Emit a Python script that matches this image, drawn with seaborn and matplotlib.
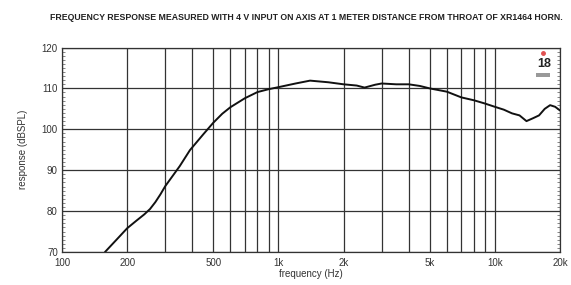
import matplotlib
matplotlib.use("Agg")
import matplotlib.pyplot as plt
import matplotlib.ticker as mticker
from matplotlib.patches import Rectangle
import seaborn as sns
import pandas as pd
import numpy as np

freq_hz = [158, 180, 200, 220, 240, 255, 270, 285, 300, 350, 390, 450, 500, 550, 600, 700, 800, 900,
           1000, 1200, 1400, 1700, 2000, 2300, 2500, 2800, 3000, 3500, 4000, 4500, 5000, 6000,
           7000, 8000, 9000, 10000, 11000, 12000, 13000, 14000, 15000, 16000, 17000, 18000,
           19000, 20000]
response_db = [70.0, 73.2, 75.8, 77.6, 79.2, 80.5, 82.2, 84.1, 86.1, 91.0, 94.9, 98.8, 101.6, 103.8, 105.4,
               107.6, 109.1, 109.8, 110.3, 111.2, 111.9, 111.5, 111.0, 110.7, 110.2, 110.9,
               111.2, 111.0, 111.0, 110.6, 110.0, 109.2, 107.8, 107.1, 106.3, 105.5, 104.8,
               103.9, 103.4, 102.0, 102.7, 103.4, 105.0, 105.9, 105.5, 104.6]
x_ticks = [100, 200, 500, 1000, 2000, 5000, 10000, 20000]
x_tick_labels = ["100", "200", "500", "1k", "2k", "5k", "10k", "20k"]
y_ticks = [70, 80, 90, 100, 110, 120]

df = pd.DataFrame({"freq": freq_hz, "db": response_db})

sns.set_style("white")
plt.rcParams["font.family"] = ["Liberation Sans", "DejaVu Sans"]

fig = plt.figure(figsize=(5.71, 2.85), dpi=100)
ax = fig.add_axes([62 / 571, 1 - 252 / 285, (560 - 62) / 571, (252 - 47.5) / 285])

sns.lineplot(data=df, x="freq", y="db", ax=ax, color="#111111", linewidth=1.4)

ax.set_xscale("log")
ax.set_xlim(100, 20000)
ax.set_ylim(70, 120)

ax.set_xticks(x_ticks)
ax.set_xticklabels(x_tick_labels)
ax.xaxis.set_minor_locator(mticker.LogLocator(base=10, subs=np.arange(2, 10)))
ax.xaxis.set_minor_formatter(mticker.NullFormatter())
ax.set_yticks(y_ticks)
ax.yaxis.set_minor_locator(mticker.MultipleLocator(1))

ax.grid(True, which="major", axis="y", color="#333333", linewidth=0.9)
ax.grid(True, which="both", axis="x", color="#333333", linewidth=0.9)
ax.set_axisbelow(True)

ax.tick_params(axis="x", which="both", length=0, labelsize=7, colors="#333333", pad=4)
ax.tick_params(axis="y", which="major", length=0, labelsize=7, colors="#333333", pad=3)
ax.tick_params(axis="y", which="minor", length=2, width=0.5, direction="in",
               left=True, right=True, color="#555555")

for s in ax.spines.values():
    s.set_visible(True)
    s.set_color("#333333")
    s.set_linewidth(0.9)

ax.set_xlabel("frequency (Hz)", fontsize=7, color="#333333", labelpad=1)
ax.set_ylabel("response (dBSPL)", fontsize=7, color="#333333", labelpad=10)

fig.text(306 / 571, 1 - 18 / 285,
         "FREQUENCY RESPONSE MEASURED WITH 4 V INPUT ON AXIS AT 1 METER DISTANCE FROM THROAT OF XR1464 HORN.",
         ha="center", va="center", fontsize=6.3, fontweight="bold", color="#222222",
         family=["Liberation Sans Narrow", "Liberation Sans", "DejaVu Sans"])

ax.text(0.982, 0.92, "18", transform=ax.transAxes, ha="right", va="center",
        fontsize=9, fontweight="bold", color="#222222",
        family=["Liberation Sans Narrow", "Liberation Sans", "DejaVu Sans"])
ax.plot([0.965], [0.975], marker="o", markersize=2.5, color="#e05050", transform=ax.transAxes)
ax.add_patch(Rectangle((0.951, 0.855), 0.028, 0.018, transform=ax.transAxes,
                       facecolor="#999999", edgecolor="none"))

fig.savefig("out.png", dpi=100)
